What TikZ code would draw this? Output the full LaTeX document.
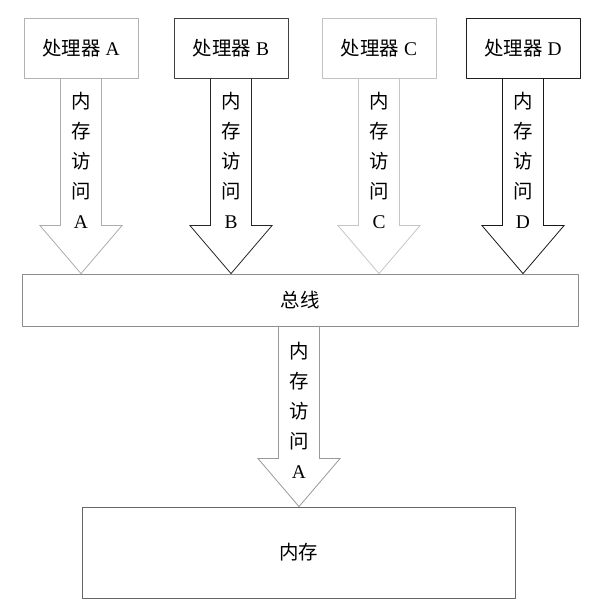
\documentclass[tikz,border=0pt]{standalone}
\usepackage{fontspec}
\setmainfont{Liberation Serif}
\newfontfamily\cjk{Noto Sans CJK SC}
\usetikzlibrary{calc,positioning}

\definecolor{lineA}{gray}{0.70}
\definecolor{lineB}{gray}{0.25}
\definecolor{lineC}{gray}{0.76}
\definecolor{lineD}{gray}{0.12}
\definecolor{lineBus}{gray}{0.55}
\definecolor{lineMem}{gray}{0.40}

\tikzset{
  unit/.style={draw, line width=0.8bp, minimum width=114bp, minimum height=60bp, inner sep=0pt,
    font=\fontsize{19.5}{22}\selectfont},
  vlabel/.style={align=center, inner sep=0pt, font=\fontsize{19.5}{30}\selectfont},
}
% fat arrow: shaft top, tip, colour
\newcommand\fatarrow[3]{%
  \draw[#3, line width=0.8bp, line join=miter] let \p1=(#1), \p2=(#2) in
    (\x1-20.5bp,\y1) -- (\x1-20.5bp,\y2+48bp) -- (\x1-41bp,\y2+48bp) -- (\x2,\y2)
    -- (\x1+41bp,\y2+48bp) -- (\x1+20.5bp,\y2+48bp) -- (\x1+20.5bp,\y1);}

\begin{document}
\begin{tikzpicture}[line join=bevel]
\useasboundingbox (0,0) rectangle (598bp,613bp);
%%
\node (pA) at (81bp,565bp) [unit, draw=lineA] {{\cjk 处理器} A};
\node (pB) at (231bp,565bp) [unit, draw=lineB] {{\cjk 处理器} B};
\node (pC) at (379bp,565bp) [unit, draw=lineC] {{\cjk 处理器} C};
\node (pD) at (523bp,565bp) [unit, draw=lineD] {{\cjk 处理器} D};
\node (bus) at (300bp,313bp) [unit, draw=lineBus, minimum width=556bp, minimum height=52bp] {\cjk 总线};
\node (mem) at (298.5bp,60.5bp) [unit, draw=lineMem, minimum width=433bp, minimum height=91bp] {\cjk 内存};
\coordinate (busout) at (299bp,287bp);
%
\fatarrow{pA.south}{pA.south |- bus.north}{gray!65}
\fatarrow{pB.south}{pB.south |- bus.north}{gray!30!black}
\fatarrow{pC.south}{pC.south |- bus.north}{gray!45}
\fatarrow{pD.south}{pD.south |- bus.north}{gray!20!black}
\fatarrow{busout}{busout |- mem.north}{gray!80}
%
\node (lA) [vlabel, below=14bp of pA.south] {\cjk 内\\\cjk 存\\\cjk 访\\\cjk 问\\A};
\node (lB) [vlabel, below=14bp of pB.south] {\cjk 内\\\cjk 存\\\cjk 访\\\cjk 问\\B};
\node (lC) [vlabel, below=14bp of pC.south] {\cjk 内\\\cjk 存\\\cjk 访\\\cjk 问\\C};
\node (lD) [vlabel, below=14bp of pD.south] {\cjk 内\\\cjk 存\\\cjk 访\\\cjk 问\\D};
\node (lM) [vlabel, below=16bp of busout] {\cjk 内\\\cjk 存\\\cjk 访\\\cjk 问\\A};
%
\end{tikzpicture}
\end{document}
